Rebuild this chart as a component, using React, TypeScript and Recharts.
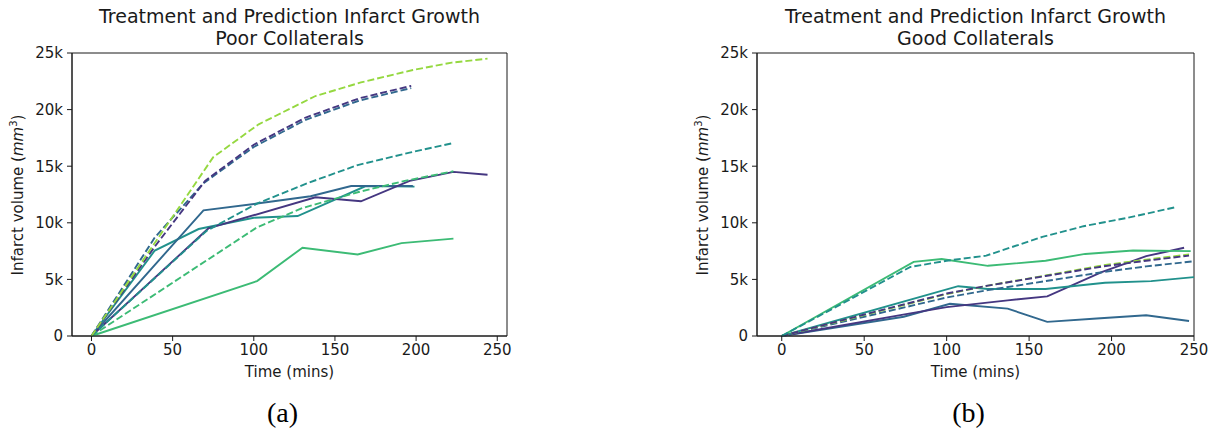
import { LineChart, Line, XAxis, YAxis, ReferenceArea } from "recharts";

// viridis samples used for the patient curves
const PURPLE = "#453781";
const BLUE = "#31688e";
const TEAL = "#21918c";
const GREEN = "#3cbb75";
const LIME = "#95d840";

const X_TICKS = [0, 50, 100, 150, 200, 250];
const Y_TICKS = [0, 5000, 10000, 15000, 20000, 25000];

// ---- Poor collaterals: observed (solid) ----
const poorPurpleT = [0, 72, 138, 166, 196, 223, 244];
const poorPurpleV = [0, 9500, 12250, 11900, 13700, 14500, 14250];
const poorBlueT = [0, 69, 102, 135, 160, 198];
const poorBlueV = [0, 11100, 11700, 12350, 13250, 13250];
const poorTealT = [0, 39, 66, 100, 127, 169, 199];
const poorTealV = [0, 7550, 9450, 10450, 10600, 13250, 13200];
const poorGreenT = [0, 102, 130, 164, 191, 223];
const poorGreenV = [0, 4850, 7800, 7200, 8200, 8600];

// ---- Poor collaterals: predicted (dashed) ----
const poorLimePredT = [0, 75, 103, 138, 166, 198, 222, 244];
const poorLimePredV = [0, 15800, 18700, 21200, 22400, 23500, 24150, 24500];
const poorPurplePredT = [0, 39, 70, 100, 132, 165, 197];
const poorPurplePredV = [0, 7900, 13700, 16900, 19300, 21000, 22100];
const poorBluePredT = [0, 39, 69, 100, 132, 165, 197];
const poorBluePredV = [0, 8700, 13500, 16700, 19100, 20800, 21900];
const poorTealPredT = [0, 71, 102, 133, 164, 196, 223];
const poorTealPredV = [0, 9300, 11700, 13500, 15100, 16200, 17050];
const poorGreenPredT = [0, 102, 130, 164, 193, 223];
const poorGreenPredV = [0, 9600, 11300, 12700, 13700, 14550];

// ---- Good collaterals: observed (solid) ----
const goodGreenT = [0, 80, 97, 125, 160, 184, 213, 248];
const goodGreenV = [0, 6550, 6800, 6200, 6650, 7250, 7550, 7500];
const goodTealT = [0, 107, 125, 160, 196, 224, 250];
const goodTealV = [0, 4400, 4150, 4150, 4700, 4850, 5200];
const goodPurpleT = [0, 78, 100, 137, 161, 194, 221, 244];
const goodPurpleV = [0, 2000, 2550, 3150, 3500, 5650, 7050, 7800];
const goodBlueT = [0, 74, 102, 137, 161, 191, 221, 247];
const goodBlueV = [0, 1700, 2850, 2420, 1250, 1550, 1830, 1330];

// ---- Good collaterals: predicted (dashed) ----
const goodTealPredT = [0, 78, 100, 124, 158, 183, 210, 238];
const goodTealPredV = [0, 6100, 6650, 7100, 8750, 9700, 10450, 11350];
const goodLimePredT = [0, 50, 100, 125, 160, 195, 221, 247];
const goodLimePredV = [0, 1850, 3700, 4450, 5350, 6250, 6750, 7200];
const goodPurplePredT = [0, 50, 100, 125, 160, 195, 221, 247];
const goodPurplePredV = [0, 1900, 3750, 4450, 5300, 6150, 6650, 7100];
const goodBluePredT = [0, 50, 100, 125, 160, 195, 221, 250];
const goodBluePredV = [0, 1700, 3400, 4050, 4850, 5650, 6150, 6600];

type Series = { t: number[]; v: number[]; color: string; dashed: boolean };

const poorSeries: Series[] = [
  { t: poorGreenT, v: poorGreenV, color: GREEN, dashed: false },
  { t: poorTealT, v: poorTealV, color: TEAL, dashed: false },
  { t: poorBlueT, v: poorBlueV, color: BLUE, dashed: false },
  { t: poorPurpleT, v: poorPurpleV, color: PURPLE, dashed: false },
  { t: poorGreenPredT, v: poorGreenPredV, color: GREEN, dashed: true },
  { t: poorTealPredT, v: poorTealPredV, color: TEAL, dashed: true },
  { t: poorBluePredT, v: poorBluePredV, color: BLUE, dashed: true },
  { t: poorPurplePredT, v: poorPurplePredV, color: PURPLE, dashed: true },
  { t: poorLimePredT, v: poorLimePredV, color: LIME, dashed: true },
];

const goodSeries: Series[] = [
  { t: goodBlueT, v: goodBlueV, color: BLUE, dashed: false },
  { t: goodPurpleT, v: goodPurpleV, color: PURPLE, dashed: false },
  { t: goodTealT, v: goodTealV, color: TEAL, dashed: false },
  { t: goodGreenT, v: goodGreenV, color: GREEN, dashed: false },
  { t: goodBluePredT, v: goodBluePredV, color: BLUE, dashed: true },
  { t: goodLimePredT, v: goodLimePredV, color: LIME, dashed: true },
  { t: goodPurplePredT, v: goodPurplePredV, color: PURPLE, dashed: true },
  { t: goodTealPredT, v: goodTealPredV, color: TEAL, dashed: true },
];

const FONT = "DejaVu Sans";
const INK = "#1a1a1a";
const CHART_H = 380;
const Y_AXIS_W = 72;
const PLOT_TOP = 53;
const PLOT_H = 283;

const fmtK = (v: number) => (v === 0 ? "0" : `${v / 1000}k`);

interface PanelProps {
  left: number;
  width: number;
  subtitle: string;
  caption: string;
  xDomain: [number, number];
  rightMargin: number;
  series: Series[];
}

function Panel({ left, width, subtitle, caption, xDomain, rightMargin, series }: PanelProps) {
  const plotW = width - Y_AXIS_W - rightMargin;
  const cx = Y_AXIS_W + plotW / 2;
  return (
    <div style={{ position: "absolute", left, top: 0, width, height: 436 }}>
      <div
        style={{
          position: "absolute",
          left: cx - 250,
          width: 500,
          top: 4.5,
          textAlign: "center",
          fontFamily: FONT,
          fontSize: 19,
          lineHeight: "22.5px",
          color: INK,
        }}
      >
        Treatment and Prediction Infarct Growth
        <br />
        {subtitle}
      </div>

      <LineChart
        width={width}
        height={CHART_H}
        margin={{ top: PLOT_TOP, right: rightMargin, left: 0, bottom: 0 }}
      >
        <XAxis
          xAxisId="x"
          type="number"
          dataKey="t"
          domain={xDomain}
          ticks={X_TICKS}
          allowDataOverflow
          height={CHART_H - PLOT_TOP - PLOT_H}
          stroke={INK}
          tickSize={5}
          tickMargin={3}
          tick={{ fontSize: 15, fill: INK, fontFamily: FONT }}
        />
        <YAxis
          yAxisId="y"
          type="number"
          domain={[0, 25000]}
          ticks={Y_TICKS}
          width={Y_AXIS_W}
          stroke={INK}
          tickSize={5}
          tickMargin={4}
          tickFormatter={fmtK}
          tick={{ fontSize: 15, fill: INK, fontFamily: FONT }}
        />
        {/* full frame around the plot area */}
        <ReferenceArea
          xAxisId="x"
          yAxisId="y"
          x1={xDomain[0]}
          x2={xDomain[1]}
          y1={0}
          y2={25000}
          fill="none"
          fillOpacity={0}
          stroke={INK}
          strokeWidth={1}
          ifOverflow="visible"
        />
        {series.map((s, i) => (
          <Line
            key={i}
            xAxisId="x"
            yAxisId="y"
            type="linear"
            data={s.t.map((t, j) => ({ t, v: s.v[j] }))}
            dataKey="v"
            stroke={s.color}
            strokeWidth={1.9}
            strokeDasharray={s.dashed ? "7 3" : undefined}
            dot={false}
            activeDot={false}
            isAnimationActive={false}
          />
        ))}
      </LineChart>

      {/* y axis title */}
      <div
        style={{
          position: "absolute",
          left: 18 - 120,
          top: PLOT_TOP + PLOT_H / 2 - 10,
          width: 240,
          height: 20,
          lineHeight: "20px",
          textAlign: "center",
          transform: "rotate(-90deg)",
          fontFamily: FONT,
          fontSize: 15,
          color: INK,
          whiteSpace: "nowrap",
        }}
      >
        Infarct volume (<i>mm</i>
        <sup style={{ fontSize: 10, verticalAlign: "6px", lineHeight: 0 }}>3</sup>)
      </div>

      {/* x axis title */}
      <div
        style={{
          position: "absolute",
          left: cx - 100,
          width: 200,
          top: 362,
          textAlign: "center",
          fontFamily: FONT,
          fontSize: 15,
          lineHeight: "20px",
          color: INK,
        }}
      >
        Time (mins)
      </div>

      <div
        style={{
          position: "absolute",
          left: cx - 7 - 40,
          width: 80,
          top: 397,
          textAlign: "center",
          fontFamily: "Liberation Serif",
          fontSize: 28,
          lineHeight: "32px",
          color: "#000",
        }}
      >
        {caption}
      </div>
    </div>
  );
}

export default function App() {
  return (
    <div
      style={{
        position: "absolute",
        left: 0,
        top: 0,
        width: 1215,
        height: 436,
        background: "#fff",
        overflow: "hidden",
      }}
    >
      <Panel left={0} width={520} subtitle="Poor Collaterals" caption="(a)" xDomain={[-12, 256]} rightMargin={13} series={poorSeries} />
      <Panel left={685} width={530} subtitle="Good Collaterals" caption="(b)" xDomain={[-15, 250]} rightMargin={21} series={goodSeries} />
    </div>
  );
}
